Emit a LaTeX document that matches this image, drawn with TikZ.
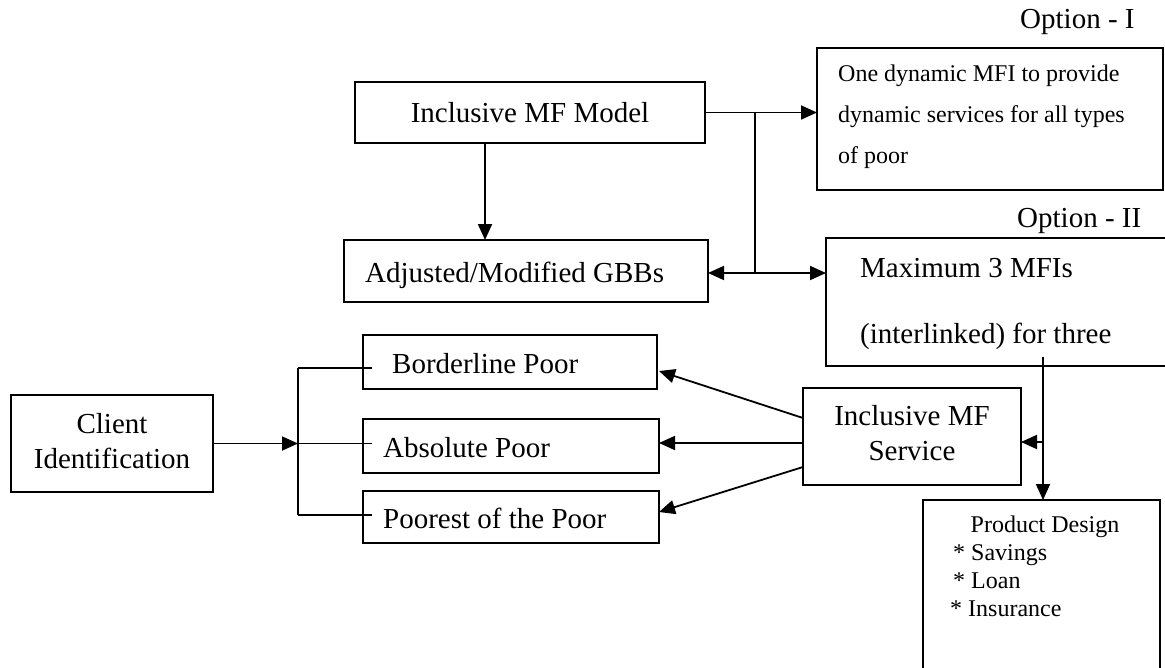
\documentclass[tikz,border=0pt]{standalone}
\usepackage{fontspec}
\setmainfont{Liberation Serif}
\usetikzlibrary{arrows.meta,calc}
\begin{document}
\begin{tikzpicture}[x=1pt,y=-1pt,
  box/.style={draw, line width=2pt, inner sep=0pt, outer sep=0pt},
  conn/.style={line width=1.8pt},
  arr/.style={conn, -{Triangle[length=16pt,width=14pt]}},
  big/.style={font=\fontsize{29}{35}\selectfont},
  small/.style={font=\fontsize{24}{28}\selectfont},
  txt/.style={inner sep=0pt, anchor=base west},
  ctxt/.style={inner sep=0pt, anchor=base}]
\fill[white] (0,0) rectangle (1165,667);
\clip (0,0) rectangle (1165,667);

% boxes
\node[box, big, minimum width=350pt, minimum height=61pt] (model) at (530,112.5) {Inclusive MF Model};
\node[box, minimum width=364pt, minimum height=62pt] (gbb) at (526,271) {};
\node[box, minimum width=346pt, minimum height=142pt] (opt1) at (990,119) {};
\node[box, minimum width=364pt, minimum height=128pt] (opt2) at (1008,302) {};
\node[box, minimum width=294pt, minimum height=54pt] (border) at (510,362) {};
\node[box, minimum width=296pt, minimum height=54pt] (absolute) at (511,446) {};
\node[box, minimum width=296pt, minimum height=52pt] (poorest) at (511,517) {};
\node[box, minimum width=202pt, minimum height=97pt] (client) at (112,443.5) {};
\node[box, minimum width=218pt, minimum height=97pt] (service) at (912,436.5) {};
\node[box, minimum width=237pt, minimum height=220pt] (product) at (1041.5,610) {};

% texts
\node[txt, big] (gbbt) at (365,282.5) {Adjusted/Modified GBBs};
\node[txt, big] (opt1lab) at (1020,28) {Option - I};
\node[txt, big] (opt2lab) at (1017,227) {Option - II};
\node[txt, small] (o1a) at (838,81) {One dynamic MFI to provide};
\node[txt, small] (o1b) at (838,122) {dynamic services for all types};
\node[txt, small] (o1c) at (838,163) {of poor};
\node[txt, big] (o2a) at (860,277) {Maximum 3 MFIs};
\node[txt, big] (o2b) at (860,343) {(interlinked) for three};
\node[txt, big] (bordert) at (392,373.5) {Borderline Poor};
\node[txt, big] (absolutet) at (383,457) {Absolute Poor};
\node[txt, big] (poorestt) at (383,528) {Poorest of the Poor};
\node[ctxt, big] (clientt1) at (112,433) {Client};
\node[ctxt, big] (clientt2) at (112,468) {Identification};
\node[ctxt, big] (servicet1) at (912,425) {Inclusive MF};
\node[ctxt, big] (servicet2) at (912,460) {Service};
\node[ctxt, small] (prodt) at (1045,532) {Product Design};
\node[txt, small] (prod1) at (953,560) {* Savings};
\node[txt, small] (prod2) at (953,588) {* Loan};
\node[txt, small] (prod3) at (950,616) {* Insurance};

% connectors (top)
\draw[arr] ([xshift=-45pt]model.south) -- ([xshift=-45pt]model.south |- gbb.north);
\draw[arr] (model.east) -- (model.east -| opt1.west);
\coordinate (j1) at (755,112.5);
\coordinate (j2) at (755,273);
\draw[conn] (j1) -- (j2);
\draw[arr] (j2) -- (j2 -| gbb.east);
\draw[arr] (j2) -- (j2 -| opt2.west);

% client bracket
\coordinate (bk) at (298,443.5);
\coordinate (bt) at (298,368);
\coordinate (bb) at (298,515);
\draw[arr] (client.east) -- (bk);
\draw[conn] (bt) -- (bb);
\draw[conn] (bt) -- ($(bt -| border.west)+(9,0)$);
\draw[conn] (bk) -- ($(bk -| absolute.west)+(9,0)$);
\draw[conn] (bb) -- ($(bb -| poorest.west)+(9,0)$);

% service arrows
\coordinate (sb) at ($(service.west)+(0,-18.5)$);
\coordinate (sa) at ($(service.west)+(0,6.5)$);
\coordinate (sp) at ($(service.west)+(0,30.5)$);
\draw[arr] (sb) -- ($(border.east)+(2,9)$);
\draw[arr] (sa) -- (sa -| absolute.east);
\draw[arr] (sp) -- ($(poorest.east)+(0,-5)$);

% right vertical
\coordinate (v1) at (1043,357);
\coordinate (v2) at (1043,442);
\draw[arr] (v1) -- (v1 |- product.north);
\draw[arr] (v2) -- (v2 -| service.east);
\end{tikzpicture}
\end{document}
